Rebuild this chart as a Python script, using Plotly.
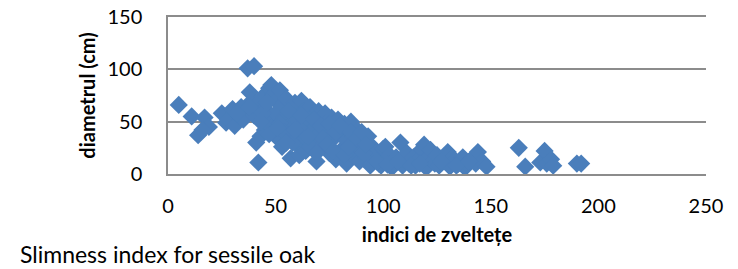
import plotly.graph_objects as go

slimness = [5, 11, 14, 17, 19, 16,
            25, 27, 28, 30, 31, 33, 34, 36, 35,
            37, 40, 38, 39, 41, 40, 42, 41, 43, 44, 45, 46, 45, 47, 48, 49, 50, 50, 48, 51, 52, 53, 54, 53,
            55, 56, 57, 57, 58, 59, 60, 60, 61, 62, 63, 63, 64, 65, 66, 67, 67, 68, 69, 70, 70, 71, 72, 73,
            74, 75, 76, 76, 77, 78, 79, 80, 81, 82, 83, 83, 84, 85, 86, 86, 87, 88, 89, 90, 91, 92, 93, 94,
            95, 96, 97, 98, 99, 100, 101, 102, 103, 104, 105, 106, 108, 109, 110, 111, 112, 114, 115, 116,
            118, 119, 120, 121, 122, 123, 124, 125, 126, 128, 130, 131, 132, 133, 135, 137, 138, 139, 141,
            143, 144, 146, 148, 163, 166, 173, 175, 176, 178, 179, 190, 192,
            44, 46, 52, 54, 56, 58, 61, 62, 64, 66, 68, 69, 71, 72, 74, 75, 77, 78, 80, 82, 84, 85, 88, 90, 91, 92,
            97, 102, 107, 113, 117, 127, 134, 140,
            32, 38, 43, 47, 51, 55, 59, 65]
diameter = [66, 55, 37, 54, 45, 42,
            58, 49, 52, 62, 46, 56, 64, 60, 52,
            101, 103, 78, 70, 66, 56, 11, 30, 36, 74, 62, 50, 42, 82, 85, 76, 70, 58, 44, 34, 80, 66, 54, 26,
            72, 46, 15, 36, 62, 68, 52, 28, 18, 70, 60, 40, 22, 48, 64, 55, 32, 44, 12, 60, 38, 26, 50, 58,
            42, 20, 54, 32, 46, 14, 52, 38, 24, 48, 10, 32, 44, 50, 18, 36, 28, 42, 12, 24, 34, 16, 36, 8,
            26, 14, 20, 10, 8, 24, 26, 14, 18, 6, 10, 16, 30, 8, 13, 20, 10, 16, 8, 13,
            24, 28, 6, 16, 23, 12, 10, 18, 8, 14, 21, 7, 16, 13, 10, 16, 6, 10, 14,
            10, 21, 12, 7, 25, 7, 11, 22, 10, 14, 8, 10, 10,
            58, 68, 48, 40, 60, 30, 44, 56, 34, 26, 52, 20, 46, 34, 28, 48, 22, 40, 46, 18, 26, 40, 34, 40, 20, 28,
            12, 9, 12, 8, 10, 12, 8, 12,
            58, 64, 50, 38, 44, 30, 42, 36]

x_ticks = [0, 50, 100, 150, 200, 250]
y_ticks = [0, 50, 100, 150]

fig = go.Figure(go.Scatter(
    x=slimness, y=diameter, mode="markers",
    marker=dict(symbol="diamond", size=14, color="#4A7EBB", line=dict(width=0)),
    showlegend=False, hoverinfo="skip",
))

font_main = "Lato, 'DejaVu Sans', sans-serif"
grid = "#8C8C8C"

fig.update_layout(
    width=738, height=269,
    margin=dict(l=168, r=32, t=17, b=95),
    paper_bgcolor="white", plot_bgcolor="white",
    font=dict(family=font_main, size=20, color="black"),
    xaxis=dict(range=[0, 250], tickvals=x_ticks, showgrid=False, zeroline=False,
               showline=True, mirror=True, linecolor=grid, linewidth=1.5,
               ticks="", ticklabelstandoff=13, automargin=False,
               title=dict(text="<b>indici de zveltețe</b>", font=dict(size=20), standoff=12)),
    yaxis=dict(range=[0, 150], tickvals=y_ticks, showgrid=True, gridcolor=grid, gridwidth=1.5,
               zeroline=False, showline=True, linecolor=grid, linewidth=1.5,
               ticks="", ticklabelstandoff=20, automargin=False,
               title=dict(text="<b>diametrul (cm)</b>", font=dict(size=20), standoff=6)),
    annotations=[dict(text="Slimness index for sessile oak", xref="paper", yref="paper",
                      x=(18 - 168) / 538, y=(174 - 254) / 157, xanchor="left", yanchor="middle",
                      showarrow=False, font=dict(size=23, family=font_main))],
)

fig.write_html("out.html", config={"displayModeBar": False},
               post_script="document.body.style.margin='0';")
